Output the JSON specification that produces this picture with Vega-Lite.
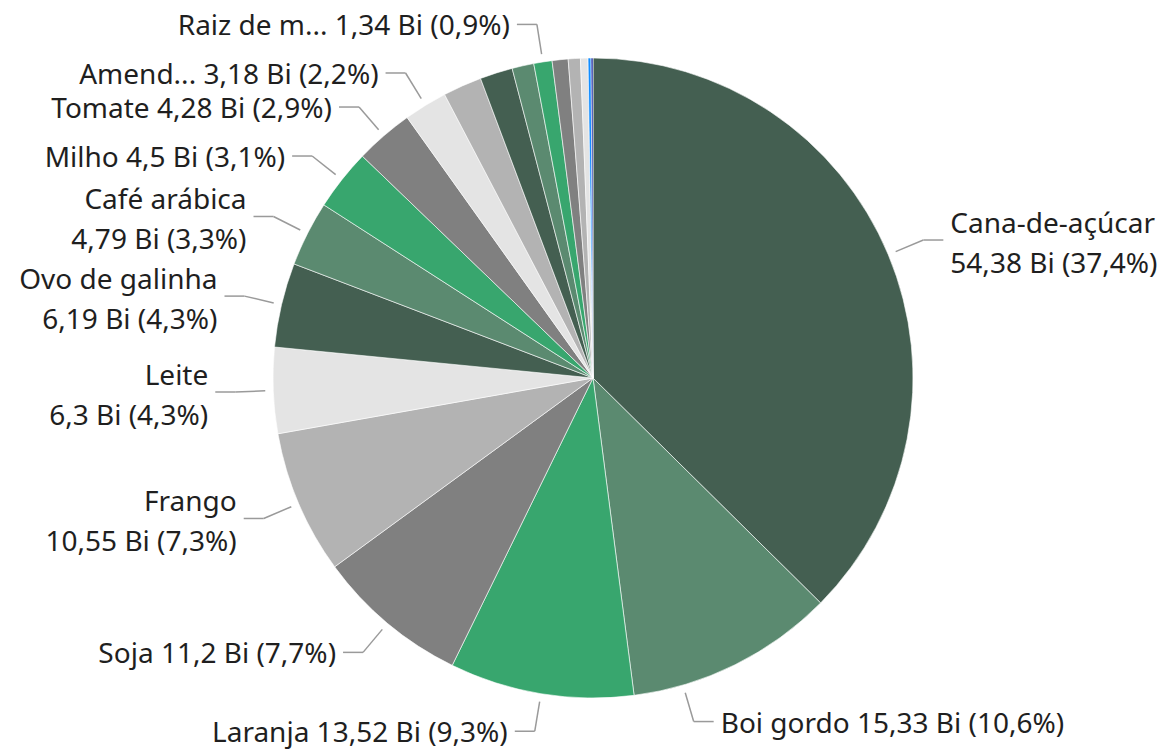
{
  "$schema": "https://vega.github.io/schema/vega-lite/v6.json",
  "autosize": {"type": "fit", "contains": "padding"},
  "width": 1169,
  "height": 752,
  "padding": {"left": 17, "top": 4, "right": 0, "bottom": 0},
  "background": "white",
  "config": {"view": {"stroke": null}},
  "data": {
    "values": [
      {"name": "Cana-de-açúcar", "value": 54.38, "label": "Cana-de-açúcar\n54,38 Bi (37,4%)"},
      {"name": "Boi gordo", "value": 15.33, "label": "Boi gordo 15,33 Bi (10,6%)"},
      {"name": "Laranja", "value": 13.52, "label": "Laranja 13,52 Bi (9,3%)"},
      {"name": "Soja", "value": 11.2, "label": "Soja 11,2 Bi (7,7%)"},
      {"name": "Frango", "value": 10.55, "label": "Frango\n10,55 Bi (7,3%)"},
      {"name": "Leite", "value": 6.3, "label": "Leite\n6,3 Bi (4,3%)"},
      {"name": "Ovo de galinha", "value": 6.19, "label": "Ovo de galinha\n6,19 Bi (4,3%)"},
      {"name": "Café arábica", "value": 4.79, "label": "Café arábica\n4,79 Bi (3,3%)"},
      {"name": "Milho", "value": 4.5, "label": "Milho 4,5 Bi (3,1%)"},
      {"name": "Tomate", "value": 4.28, "label": "Tomate 4,28 Bi (2,9%)"},
      {"name": "Amendoim", "value": 3.18, "label": "Amend... 3,18 Bi (2,2%)"},
      {"name": "Algodão", "value": 2.85, "label": ""},
      {"name": "Arroz", "value": 2.4, "label": ""},
      {"name": "Banana", "value": 1.6, "label": ""},
      {"name": "Raiz de mandioca", "value": 1.34, "label": "Raiz de m... 1,34 Bi (0,9%)"},
      {"name": "Batata-inglesa", "value": 1.17, "label": ""},
      {"name": "Feijão", "value": 0.89, "label": ""},
      {"name": "Uva", "value": 0.55, "label": ""},
      {"name": "Cebola", "value": 0.22, "label": ""},
      {"name": "Trigo", "value": 0.14, "label": ""}
    ]
  },
  "transform": [
    {"joinaggregate": [{"op": "sum", "field": "value", "as": "total"}]},
    {"window": [{"op": "sum", "field": "value", "as": "cum"}], "sort": [{"field": "value", "order": "descending"}], "frame": [null, 0]},
    {"calculate": "(datum.cum - datum.value / 2) / datum.total * 2 * PI", "as": "mid"},
    {"calculate": "datum.mid > 2.44 && datum.mid < PI ? datum.mid + 0.175 : datum.mid", "as": "la"},
    {"calculate": "328 * sin(datum.la)", "as": "x0"},
    {"calculate": "328 * cos(datum.la)", "as": "y0"},
    {"calculate": "358 * sin(datum.la)", "as": "x1"},
    {"calculate": "358 * cos(datum.la)", "as": "y1"},
    {"calculate": "datum.y1 + (indexof(datum.label, '\\n') >= 0 ? 18 : 0)", "as": "yt"},
    {"calculate": "sin(datum.la) >= 0 ? 'right' : 'left'", "as": "side"},
    {"calculate": "datum.x1 + (datum.side == 'right' ? 20 : -20)", "as": "x2"},
    {"calculate": "datum.x2 + (datum.side == 'right' ? 7 : -7)", "as": "xt"}
  ],
  "layer": [
    {
      "mark": {"type": "arc", "outerRadius": 320, "stroke": "#ffffff", "strokeWidth": 0.6},
      "encoding": {
        "theta": {"field": "value", "type": "quantitative", "stack": true},
        "order": {"field": "value", "type": "quantitative", "sort": "descending"},
        "color": {
          "field": "name",
          "type": "nominal",
          "legend": null,
          "scale": {
            "domain": ["Cana-de-açúcar", "Boi gordo", "Laranja", "Soja", "Frango", "Leite", "Ovo de galinha", "Café arábica", "Milho", "Tomate", "Amendoim", "Algodão", "Arroz", "Banana", "Raiz de mandioca", "Batata-inglesa", "Feijão", "Uva", "Cebola", "Trigo"],
            "range": ["#445f51", "#5b8a70", "#38a66e", "#808080", "#b3b3b3", "#e4e4e4", "#445f51", "#5b8a70", "#38a66e", "#808080", "#e4e4e4", "#b3b3b3", "#445f51", "#5b8a70", "#38a66e", "#808080", "#b3b3b3", "#e4e4e4", "#118dff", "#12239e"]
          }
        }
      }
    },
    {
      "transform": [{"filter": "datum.label != ''"}],
      "mark": {"type": "rule", "color": "#9a9a9a", "strokeWidth": 1.5},
      "encoding": {
        "x": {"field": "x0", "type": "quantitative", "scale": {"domain": [-576, 576], "zero": false, "nice": false}, "axis": null},
        "y": {"field": "y0", "type": "quantitative", "scale": {"domain": [-374, 374], "zero": false, "nice": false}, "axis": null},
        "x2": {"field": "x1"},
        "y2": {"field": "y1"}
      }
    },
    {
      "transform": [{"filter": "datum.label != ''"}],
      "mark": {"type": "rule", "color": "#9a9a9a", "strokeWidth": 1.5},
      "encoding": {
        "x": {"field": "x1", "type": "quantitative"},
        "y": {"field": "y1", "type": "quantitative"},
        "x2": {"field": "x2"}
      }
    },
    {
      "transform": [{"filter": "datum.label != '' && datum.side == 'right'"}],
      "mark": {"type": "text", "align": "left", "baseline": "middle", "dy": 3, "font": "Noto Sans", "fontSize": 28, "lineHeight": 40, "lineBreak": "\n", "color": "#1f1f1f"},
      "encoding": {
        "x": {"field": "xt", "type": "quantitative"},
        "y": {"field": "yt", "type": "quantitative"},
        "text": {"field": "label"}
      }
    },
    {
      "transform": [{"filter": "datum.label != '' && datum.side == 'left'"}],
      "mark": {"type": "text", "align": "right", "baseline": "middle", "dy": 3, "font": "Noto Sans", "fontSize": 28, "lineHeight": 40, "lineBreak": "\n", "color": "#1f1f1f"},
      "encoding": {
        "x": {"field": "xt", "type": "quantitative"},
        "y": {"field": "yt", "type": "quantitative"},
        "text": {"field": "label"}
      }
    }
  ]
}
